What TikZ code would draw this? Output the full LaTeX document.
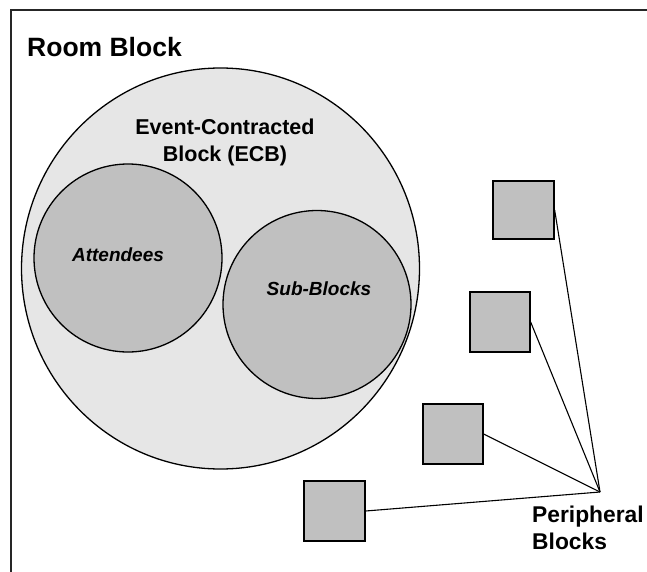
\documentclass[tikz,border=0pt]{standalone}
\usepackage{fontspec}
\setmainfont{Liberation Sans}
\usetikzlibrary{shapes.geometric}
\definecolor{blockgray}{HTML}{C0C0C0}
\definecolor{ecbfill}{HTML}{E6E6E6}
\tikzset{
  outline/.style={draw=black, line width=1.3pt},
  innerblob/.style={outline, circle, fill=blockgray, inner sep=0pt},
  periph/.style={outline, rectangle, fill=blockgray, inner sep=0pt, minimum width=60pt, minimum height=60pt},
  conn/.style={draw=black, line width=1.1pt},
  bigtxt/.style={font=\bfseries\fontsize{26.5}{30}\selectfont, inner sep=0pt},
  midtxt/.style={font=\bfseries\fontsize{21.5}{27}\selectfont, inner sep=0pt},
  pertxt/.style={font=\bfseries\fontsize{22.8}{27}\selectfont, inner sep=0pt},
  smalltxt/.style={font=\bfseries\itshape\fontsize{19}{22}\selectfont, inner sep=0pt}
}
\begin{document}
\begin{tikzpicture}[x=1pt, y=-1pt]
\useasboundingbox (0,0) rectangle (647,572);
% frame
\draw[line width=1.8pt, black!85] (11,572) -- (11,10) -- (647,10);
% ECB ellipse
\node[outline, ellipse, fill=ecbfill, inner sep=0pt, minimum width=398pt, minimum height=401pt] (ecb) at (220.5,268.5) {};
% inner circles
\node[innerblob, minimum size=188pt] (att) at (128,258) {};
\node[innerblob, minimum size=188pt] (sub) at (317,304.5) {};
% texts
\node[bigtxt, anchor=base west] (roomblock) at (27,57) {Room Block};
\node[midtxt, align=center, anchor=center] (ecbtxt) at (225,142) {Event-Contracted\\Block (ECB)};
\node[smalltxt, anchor=base] (atttxt) at (118,261) {Attendees};
\node[smalltxt, anchor=base] (subtxt) at (319,295) {Sub-Blocks};
% peripheral blocks
\node[periph, minimum width=61pt, minimum height=58pt] (p1) at (523.5,210) {};
\node[periph] (p2) at (500,322) {};
\node[periph] (p3) at (453,434) {};
\node[periph, minimum width=61pt] (p4) at (334.5,511) {};
\coordinate (hub) at (600,492);
\draw[conn] (p1.east) -- (hub);
\draw[conn] (p2.east) -- (hub);
\draw[conn] (p3.east) -- (hub);
\draw[conn] (p4.east) -- (hub);
\node[pertxt, align=left, anchor=north west] (pertxt) at (532,506) {Peripheral\\Blocks};
\end{tikzpicture}
\end{document}
